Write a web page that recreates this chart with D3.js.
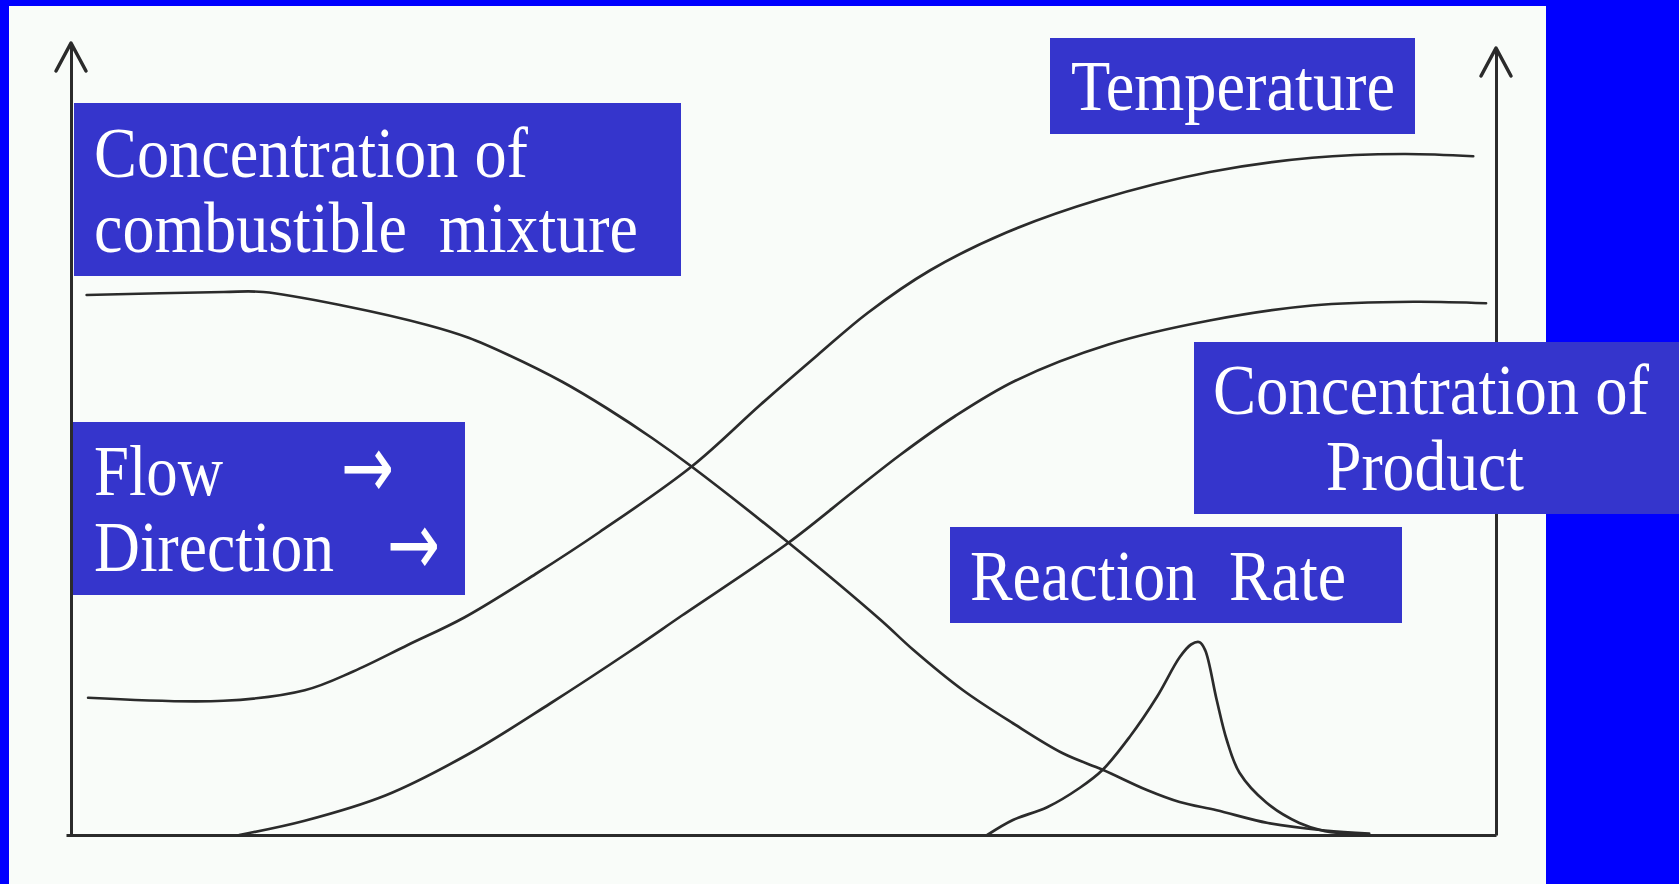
<!DOCTYPE html>
<html>
<head>
<meta charset="utf-8">
<script src="https://cdn.jsdelivr.net/npm/d3@7/dist/d3.min.js"></script>
<style>
  html, body { margin: 0; padding: 0; background: #0000ff; overflow: hidden; }
  svg { display: block; }
</style>
</head>
<body>
<svg id="graph"></svg>
<script>
// distance along the flame (0-100) vs relative level (0-100)
var mixture = [[1.1,72.0],[10.7,72.4],[13.5,72.4],[19.3,70.5],[25.0,68.0],[27.9,66.3],[30.7,64.0],
  [34.5,60.4],[37.6,56.9],[40.8,52.9],[43.5,49.2],[50.4,38.9],[56.8,28.7],[59.1,24.7],[62.6,19.3],
  [66.1,14.9],[69.6,10.9],[72.4,8.7],[75.5,6.0],[77.8,4.4],[80.4,3.3],[84.0,1.6],[88.0,0.6],[91.1,0.2]];
var temperature = [[1.2,18.3],[10.7,17.9],[16.4,19.3],[19.8,21.8],[23.6,25.3],[27.6,29.0],[32.6,34.8],
  [37.1,40.4],[43.6,49.2],[48.4,57.4],[52.4,64.0],[55.9,69.6],[60.3,75.3],[65.6,80.3],[72.1,84.7],
  [79.9,88.4],[87.1,90.3],[93.5,90.8],[98.4,90.5]];
var product = [[11.8,0],[16.4,1.9],[22.1,5.3],[27.9,10.8],[33.6,17.5],[39.3,24.6],[42.9,29.3],
  [50.3,38.9],[54.9,45.8],[58.2,50.7],[62.0,55.8],[66.3,60.6],[72.8,65.4],[79.9,68.6],[87.1,70.6],
  [94.2,71.1],[99.3,70.9]];
var reactionRate = [[64.3,0],[66.1,2.0],[68.5,3.7],[70.8,6.3],[72.4,8.7],[74.3,13.1],[76.2,18.4],
  [77.8,23.7],[78.6,25.4],[79.2,25.7],[79.6,24.6],[80.4,18.0],[81.1,12.7],[82.0,8.3],[83.9,4.3],
  [86.2,1.6],[88.0,0.5],[90.4,0.1]];

var mixtureLabel = ["Concentration of", "combustible  mixture"];
var temperatureLabel = ["Temperature"];
var flowLabel = ["Flow", "Direction"];
var productLabel = ["Concentration of", "Product"];
var rateLabel = ["Reaction  Rate"];

var W = 1679, H = 884;
var svg = d3.select("#graph")
  .attr('width', W)
  .attr('height', H)

// white sheet on the blue slide
svg.append('rect')
  .attr('x', 9).attr('y', 6)
  .attr('width', 1546 - 9).attr('height', H - 6)
  .attr('fill', '#f9fcf9')

var x = d3.scaleLinear().domain([0, 100]).range([71, 1496]),
    y = d3.scaleLinear().domain([0, 100]).range([835, 85]);

var ink = '#2b2b2b';

// axes: plain domain lines, no ticks
var yLeft = y.copy().domain([0, y.invert(43)]).range([835, 43]);
var yRight = y.copy().domain([0, y.invert(48)]).range([835, 48]);

svg.append('g')
  .attr('transform', 'translate(' + x(0) + ',0)')
  .call(d3.axisLeft(yLeft).tickValues([]).tickSizeOuter(0))
svg.append('g')
  .attr('transform', 'translate(' + x(100) + ',0)')
  .call(d3.axisRight(yRight).tickValues([]).tickSizeOuter(0))
svg.append('g')
  .attr('transform', 'translate(0,' + y(0) + ')')
  .call(d3.axisBottom(x.copy().domain([-0.35, 100]).range([66, 1496])).tickValues([]).tickSizeOuter(0))

svg.selectAll('.domain')
  .attr('stroke', ink)
  .attr('stroke-width', 3)

// arrow heads on the two vertical axes
function arrowHead(cx, tipY) {
  svg.append('path')
    .attr('d', 'M' + (cx - 15) + ',' + (tipY + 28) + 'L' + cx + ',' + tipY + 'L' + (cx + 15) + ',' + (tipY + 28))
    .attr('fill', 'none')
    .attr('stroke', ink)
    .attr('stroke-width', 3.5)
    .attr('stroke-linejoin', 'round')
    .attr('stroke-linecap', 'round')
}
arrowHead(x(0), yLeft.range()[1])
arrowHead(x(100), yRight.range()[1])

var line = d3.line()
  .x(function(d) { return x(d[0]); })
  .y(function(d) { return y(d[1]); })
  .curve(d3.curveCatmullRom.alpha(0.5));

[mixture, temperature, product, reactionRate].forEach(function(s) {
  svg.append('path')
    .datum(s)
    .attr('d', line)
    .attr('fill', 'none')
    .attr('stroke', ink)
    .attr('stroke-width', 2.7)
    .attr('stroke-linecap', 'round')
})

// label boxes
var boxColor = '#3535cc';
function box(x0, y0, x1, y1) {
  svg.append('rect')
    .attr('x', x0).attr('y', y0)
    .attr('width', x1 - x0).attr('height', y1 - y0)
    .attr('fill', boxColor)
}
function label(t, tx, ty, len, font, size) {
  svg.append('text')
    .attr('x', tx).attr('y', ty)
    .attr('textLength', len)
    .attr('lengthAdjust', 'spacingAndGlyphs')
    .style('font-family', font || '"Liberation Serif", "Times New Roman", serif')
    .style('font-size', (size || 72) + 'px')
    .style('white-space', 'pre')
    .attr('fill', '#ffffff')
    .text(t)
}

box(74, 103, 681, 276)
label(mixtureLabel[0], 94, 177, 434)
label(mixtureLabel[1], 94, 252, 544)

box(1050, 38, 1415, 134)
label(temperatureLabel[0], 1071, 110, 324)

box(73, 422, 465, 595)
label(flowLabel[0], 94, 495, 129)
label('\u2192', 341, 498, 53, '"DejaVu Sans", sans-serif', 90)
label(flowLabel[1], 94, 571, 240)
label('\u2192', 387, 575, 53, '"DejaVu Sans", sans-serif', 90)

box(1194, 342, 1679, 514)
label(productLabel[0], 1213, 414, 436)
label(productLabel[1], 1326, 490, 198)

box(950, 527, 1402, 623)
label(rateLabel[0], 970, 600, 376)
</script>
</body>
</html>
